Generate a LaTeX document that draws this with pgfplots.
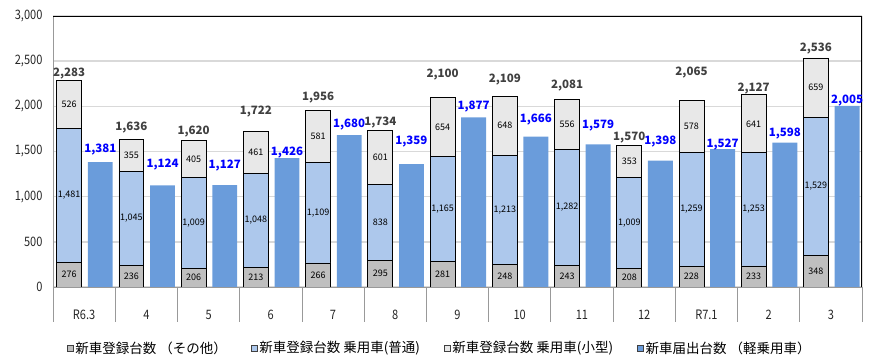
\documentclass[border=0pt]{standalone}
\usepackage{pgfplots}
\pgfplotsset{compat=1.18}
\usepackage{pgfplotstable}
\usepackage{fontspec}
\setmainfont{Noto Sans CJK JP}
\newfontfamily\tickfont[FakeStretch=0.85]{Noto Sans CJK JP}
\definecolor{cOther}{HTML}{BFBFBF}
\definecolor{cNorm}{HTML}{ADC8EC}
\definecolor{cSmall}{HTML}{E8E8E8}
\definecolor{cKei}{HTML}{6A9CDB}
\definecolor{cTot}{HTML}{404040}
\definecolor{cGrid}{HTML}{D9D9D9}
\definecolor{cBlueLab}{HTML}{0000FF}

% i: category index, o: other, n: normal, s: small, t: total, ty: total label height,
% k: kei (light) cars, ky: kei label height
\pgfplotstableread{
i  o    n     s    t     ty    k     ky
0  276  1481  526  2283  2366  1381  1520
1  236  1045  355  1636  1761  1124  1351
2  206  1009  405  1620  1716  1127  1343
3  213  1048  461  1722  1940  1426  1491
4  266  1109  581  1956  2092  1680  1793
5  295  838   601  1734  1815  1359  1609
6  281  1165  654  2100  2351  1877  1996
7  248  1213  648  2109  2297  1666  1852
8  243  1282  556  2081  2225  1579  1786
9  208  1009  353  1570  1659  1398  1609
10 228  1259  578  2065  2378  1527  1575
11 233  1253  641  2127  2201  1598  1694
12 348  1529  659  2536  2643  2005  2062
}\data

\pgfplotsset{
  sq/.style={legend image code/.code={\draw[##1, draw=black!75, line width=0.5pt] (0pt,-3pt) rectangle (6pt,3pt);}},
  common/.style={
    scale only axis, width=809pt, height=271pt,
    xmin=-0.5, xmax=12.5, ymin=0, ymax=3000,
    at={(0,0)}, anchor=south west,
  },
  numlab/.style={nodes near coords={\pgfmathprintnumber[fixed, precision=0, 1000 sep={,}, assume math mode=true]{\pgfplotspointmeta}}},
}

\begin{document}
\begin{tikzpicture}
\useasboundingbox (-53pt,-74pt) rectangle (826pt,287pt);
\begin{axis}[common,
  ybar stacked, bar width=0.4, bar shift=-0.24,
  axis lines*=left,
  axis line style={draw=gray!80, line width=0.8pt},
  ytick={0,500,...,3000},
  ymajorgrids, grid style={cGrid, line width=1.5pt},
  major tick length=0pt,
  ytick style={draw=none},
  yticklabel style={xshift=-7pt, /pgf/number format/.cd, fixed, 1000 sep={,}},
  /pgf/number format/assume math mode=true,
  tick label style={font=\tickfont\fontsize{13}{15}\selectfont, text=black!85},
  xtick={0,...,12},
  xticklabels={R6.3,4,5,6,7,8,9,10,11,12,R7.1,2,3},
  xticklabel style={anchor=center, yshift=-28pt},
  extra x ticks={-0.5,0.5,...,12.5},
  extra x tick labels={},
  extra x tick style={tick align=outside, major tick length=35pt,
     xtick style={draw=gray!80, line width=0.8pt}, grid=none},
  legend style={at={(0.478,0)}, anchor=center, yshift=-61pt, draw=none, fill=none,
     legend columns=-1, font=\fontsize{13.5}{15}\selectfont,
     nodes={inner xsep=2pt},
     /tikz/every even column/.append style={column sep=22pt}},
]
\addplot[sq, fill=cOther, draw=black, line width=0.8pt] table[x=i, y=o] {\data};
\addlegendentry{新車登録台数 （その他）}
\addplot[sq, fill=cNorm, draw=black, line width=0.8pt] table[x=i, y=n] {\data};
\addlegendentry{新車登録台数 乗用車(普通)}
\addplot[sq, fill=cSmall, draw=black, line width=0.8pt] table[x=i, y=s] {\data};
\addlegendentry{新車登録台数 乗用車(小型)}
\addlegendimage{sq, fill=cKei, draw=cKei}
\addlegendentry{新車届出台数 （軽乗用車）}
\draw[black, line width=1.2pt] (rel axis cs:0,1) -- (rel axis cs:1,1) -- (rel axis cs:1,0);
\end{axis}

\begin{axis}[common, hide axis, clip=false,
  every node near coord/.append style={anchor=center},
]
\addplot[ybar, bar width=0.4, bar shift=0.26, fill=cKei, draw=none] table[x=i, y=k] {\data};
% segment labels
\addplot[draw=none, mark=none, numlab, point meta=explicit,
  every node near coord/.append style={text=black, font=\fontsize{9}{10}\selectfont}]
  table[x expr=\thisrow{i}-0.24, y expr=\thisrow{o}/2, meta=o] {\data};
\addplot[draw=none, mark=none, numlab, point meta=explicit,
  every node near coord/.append style={text=black, font=\fontsize{9}{10}\selectfont}]
  table[x expr=\thisrow{i}-0.24, y expr=\thisrow{o}+\thisrow{n}/2, meta=n] {\data};
\addplot[draw=none, mark=none, numlab, point meta=explicit,
  every node near coord/.append style={text=black, font=\fontsize{9}{10}\selectfont}]
  table[x expr=\thisrow{i}-0.24, y expr=\thisrow{o}+\thisrow{n}+\thisrow{s}/2, meta=s] {\data};
% totals
\addplot[draw=none, mark=none, numlab, point meta=explicit,
  every node near coord/.append style={text=cTot, font=\fontsize{11.5}{13}\selectfont\bfseries}]
  table[x expr=\thisrow{i}-0.24, y=ty, meta=t] {\data};
% kei labels
\addplot[draw=none, mark=none, numlab, point meta=explicit,
  every node near coord/.append style={text=cBlueLab, font=\fontsize{11.5}{13}\selectfont\bfseries}]
  table[x expr=\thisrow{i}+0.26, y=ky, meta=k] {\data};
\end{axis}
\end{tikzpicture}
\end{document}
